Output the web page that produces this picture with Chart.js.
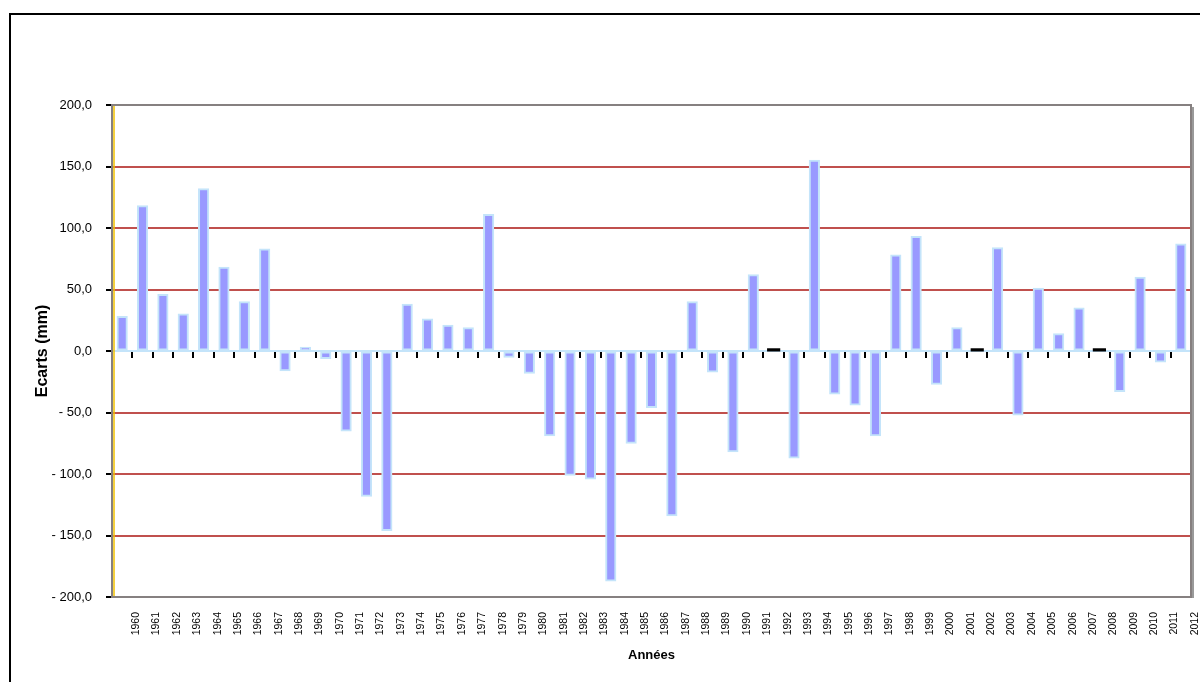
<!DOCTYPE html>
<html>
<head>
<meta charset="utf-8">
<script src="https://cdn.jsdelivr.net/npm/chart.js@4"></script>
<style>
  html, body { margin: 0; padding: 0; background: #fff; overflow: hidden; }
  #frame { position: absolute; left: 9px; top: 13px; width: 1400px; height: 900px; border: 2px solid #000; }
  #wrap { position: absolute; left: 0; top: 0; width: 1200px; height: 682px; }
</style>
</head>
<body>
<div id="frame"></div>
<div id="wrap"><canvas id="ecartsChart"></canvas></div>
<script>
        // Ecarts de pluie par rapport a la moyenne (mm)
        const annees = [];
        for (let a = 1960; a <= 2012; a++) annees.push(String(a));

        const ecarts = [
            28, 118, 46, 30, 132, 68, 40, 83, -16, 3,
            -6, -65, -118, -146, 38, 26, 21, 19, 111, -5,
            -18, -69, -101, -104, -187, -75, -46, -134, 40, -17,
            -82, 62, 1, -87, 155, -35, -44, -69, 78, 93,
            -27, 19, 1, 84, -52, 51, 14, 35, 1, -33,
            60, -9, 87
        ];

        const yTicks = [-200, -150, -100, -50, 0, 50, 100, 150, 200];

        function fmt(v) {
            const s = Math.abs(v).toFixed(1).replace('.', ',');
            return v < 0 ? '- ' + s : s;
        }

        const petit = c => Math.abs(c.raw) < 2;

        Chart.defaults.font.family = '"Liberation Sans", Arial, sans-serif';
        Chart.defaults.color = '#000';

        // cadre gris de la zone de tracé
        const cadre = {
            id: 'cadre',
            beforeDatasetsDraw(chart) {
                const a = chart.chartArea;
                const ctx = chart.ctx;
                ctx.save();
                ctx.strokeStyle = '#868080';
                ctx.lineWidth = 2;
                ctx.strokeRect(a.left, a.top, a.right - a.left, a.bottom - a.top);
                ctx.strokeStyle = '#9a9a9a';
                ctx.beginPath();
                ctx.moveTo(a.right + 2, a.top + 2);
                ctx.lineTo(a.right + 2, a.bottom + 1);
                ctx.stroke();
                ctx.strokeStyle = '#f0c000';
                ctx.lineWidth = 1.5;
                ctx.beginPath();
                ctx.moveTo(a.left + 2, a.top + 1);
                ctx.lineTo(a.left + 2, a.bottom - 1);
                ctx.stroke();
                ctx.restore();
            }
        };

        const sansMarge = s => { s.paddingLeft = 0; s.paddingRight = 0; };

        const ctx = document.getElementById('ecartsChart').getContext('2d');
        new Chart(ctx, {
            type: 'bar',
            data: {
                labels: annees,
                datasets: [{
                    label: 'Ecarts',
                    data: ecarts,
                    backgroundColor: c => petit(c) ? '#000' : '#9999ff',
                    borderColor: c => petit(c) ? '#000' : '#c4e4fa',
                    borderWidth: c => petit(c) ? 0 : 2,
                    inflateAmount: c => petit(c) ? 1.5 : 0.5,
                    borderSkipped: false,
                    barPercentage: 0.5,
                    categoryPercentage: 1
                }]
            },
            options: {
                responsive: true,
                maintainAspectRatio: false,
                animation: false,
                layout: {
                    autoPadding: false,
                    padding: { left: 30, top: 105, right: 9, bottom: 16 }
                },
                plugins: {
                    legend: { display: false },
                    tooltip: { enabled: false }
                },
                scales: {
                    x: {
                        offset: true,
                        grid: { display: false, drawTicks: false },
                        border: { display: false },
                        ticks: {
                            font: { size: 10.5 },
                            minRotation: 90,
                            maxRotation: 90,
                            autoSkip: false,
                            padding: 15,
                            labelOffset: 14
                        },
                        title: {
                            display: true,
                            text: 'Années',
                            font: { size: 13, weight: 'bold' },
                            padding: { top: 0, bottom: 3 }
                        },
                        afterFit: s => { s.height = 69; sansMarge(s); }
                    },
                    x2: {
                        type: 'category',
                        position: { y: 0 },
                        offset: true,
                        grid: {
                            offset: true,
                            drawOnChartArea: false,
                            tickLength: 6,
                            tickColor: '#000',
                            tickWidth: 2,
                            lineWidth: 2
                        },
                        border: { color: '#c4e4fa', width: 2 },
                        ticks: { display: false },
                        afterFit: sansMarge
                    },
                    y: {
                        min: -200,
                        max: 200,
                        afterBuildTicks: s => { s.ticks = yTicks.map(v => ({ value: v })); },
                        ticks: {
                            font: { size: 13 },
                            padding: 14,
                            callback: v => fmt(v)
                        },
                        grid: {
                            color: c => (c.tick && Math.abs(c.tick.value) % 200 === 0) ? 'rgba(0,0,0,0)' : '#c0504d',
                            lineWidth: 2,
                            tickColor: '#000',
                            tickWidth: 2,
                            tickLength: 6
                        },
                        border: { display: false },
                        title: {
                            display: true,
                            text: 'Ecarts (mm)',
                            font: { size: 16, weight: 'bold' },
                            padding: { top: 2.5, bottom: 4 }
                        },
                        afterFit: s => { s.width = 82; }
                    }
                }
            },
            plugins: [cadre]
        });
</script>
</body>
</html>
